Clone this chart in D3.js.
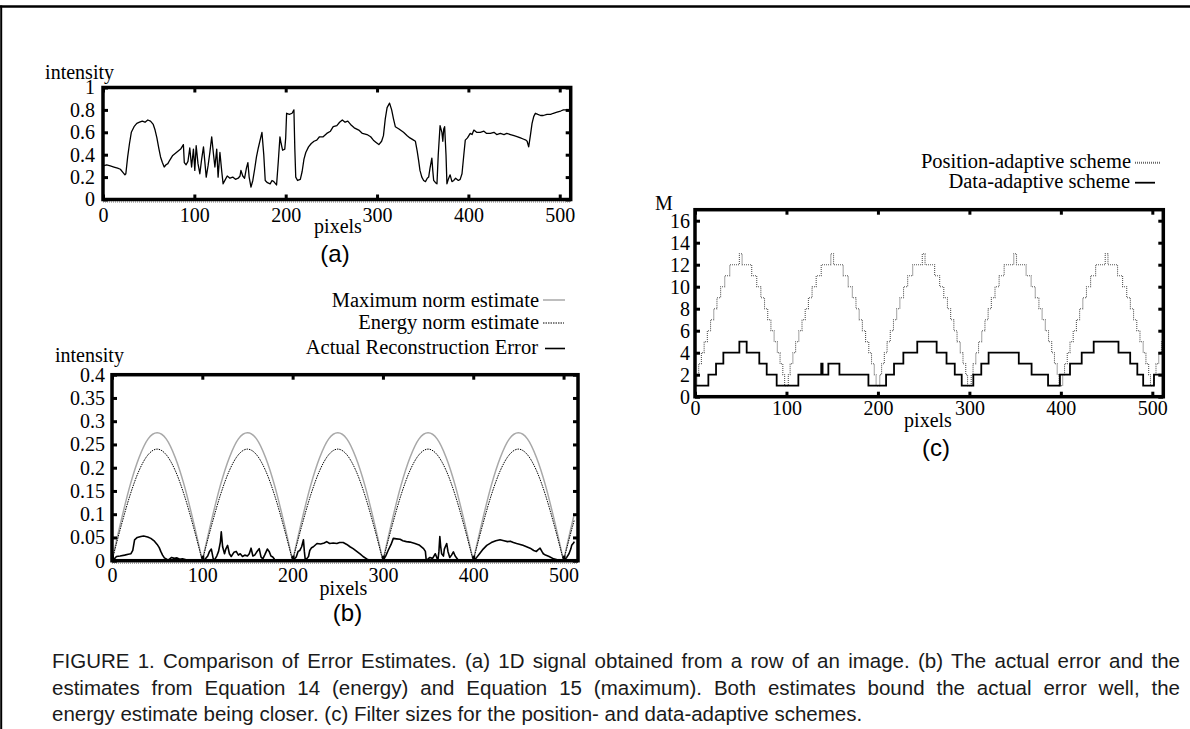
<!DOCTYPE html>
<html>
<head>
<meta charset="utf-8">
<script src="https://cdn.jsdelivr.net/npm/d3@7"></script>
<style>
  html, body { margin: 0; padding: 0; background: #fff; }
  svg { display: block; }
</style>
</head>
<body>
<svg id="chart" width="1190" height="729"></svg>
<script>
const SERIF = '"Liberation Serif", "Times New Roman", serif';
const SANS = '"Liberation Sans", Arial, sans-serif';

// (a) 1D signal, pixel position / intensity
const sigX = [0,4,8,12,16,19,22,24,25,27,29,31,34,37,40,43,46,49,52,55,57,59,61,63,65,67,69,71,73,76,79,82,85,88,89,91,93,95,97,99,100.5,102,104,106,108,110,113,115,117,119,121,122.5,124.5,126,128,130,131.5,134,136,139,142,145,148,150,151,153,155,157,158.6,160,162,164,166,168,170,172,174,176,177.6,180,183,185,187,189,190,192,193.7,195,196.6,199,200,201,204,207,209,210,211,213,216,218,220,222,225,228,231,234,237,241,245,249,252,256,259,262,265,268,271,275,280,284,289,293,296,299,302,305,307,309,311,313.7,316,318,320,324,329,333,336,340,342,344,345.5,347,349,351,353,355,356.5,358,360,361,362,364,365.6,367,369,371,372,373,374,375.5,376.5,378,380,382,384,386,389,391,393,395,396.6,399,402,404,406,409,413,417,420,424,428,431,435,439,442,446,450,454,457,460,463,464.3,466,468,469.7,471.5,473.3,476,479,482,486,490,493,497,501,504,508,512];
const sigY = [.30,.31,.30,.29,.28,.27,.24,.22,.23,.38,.50,.60,.65,.68,.69,.70,.69,.71,.70,.67,.62,.55,.46,.38,.33,.29,.31,.32,.35,.39,.41,.43,.45,.49,.33,.31,.34,.46,.29,.45,.26,.48,.32,.23,.36,.47,.20,.30,.42,.56,.40,.29,.45,.20,.42,.25,.14,.18,.21,.19,.20,.18,.19,.21,.26,.21,.19,.28,.33,.20,.11,.17,.27,.38,.46,.53,.60,.40,.17,.15,.14,.17,.16,.14,.13,.35,.56,.50,.44,.45,.55,.77,.76,.77,.80,.45,.20,.17,.18,.25,.36,.42,.47,.50,.52,.53,.56,.56,.59,.61,.65,.66,.69,.71,.69,.70,.67,.64,.62,.59,.58,.56,.53,.51,.49,.52,.57,.72,.82,.86,.80,.72,.65,.63,.60,.57,.55,.53,.52,.43,.35,.26,.20,.17,.16,.19,.20,.28,.37,.26,.17,.15,.14,.40,.66,.60,.52,.63,.65,.40,.14,.18,.22,.16,.17,.19,.17,.18,.23,.40,.53,.55,.59,.58,.62,.60,.60,.61,.59,.59,.60,.58,.59,.58,.59,.58,.57,.56,.55,.54,.53,.52,.47,.58,.68,.74,.77,.76,.75,.75,.76,.76,.77,.78,.79,.80,.80,.80];
const ticksA_x = [0,100,200,300,400,500];
const ticksA_y = [0,0.2,0.4,0.6,0.8,1];

// (b) error estimates, sampled every 10 pixels (last at 512)
const estX = d3.range(0, 520, 10).concat([512]);
const maxNorm = [0,.085,.162,.222,.262,.275,.262,.222,.162,.085,
                 0,.085,.162,.222,.262,.275,.262,.222,.162,.085,
                 0,.085,.162,.222,.262,.275,.262,.222,.162,.085,
                 0,.085,.162,.222,.262,.275,.262,.222,.162,.085,
                 0,.085,.162,.222,.262,.275,.262,.222,.162,.085,
                 0,.085,.101];
const energyNorm = [0,.074,.141,.194,.228,.240,.228,.194,.141,.074,
                    0,.074,.141,.194,.228,.240,.228,.194,.141,.074,
                    0,.074,.141,.194,.228,.240,.228,.194,.141,.074,
                    0,.074,.141,.194,.228,.240,.228,.194,.141,.074,
                    0,.074,.141,.194,.228,.240,.228,.194,.141,.074,
                    0,.074,.088];
const errX = [0,3,5,9,14,18,21,23,25,28,32,35,39.5,43,47,50,52.3,54,56,58,60,62,64,66,69,72,75,78,82,85,90,100,103,106,108,110,112,113,116,118,120,121,122.5,124.6,126,128,130,132,135,137.5,140,142,144.5,147,150,152,154,156,158,160,163,165,167,169,172,174,176,178,180,182,190,200,204,206,208,210,212,213,214,216,217.6,219,221,223,227,231,235,237.7,241,245,249,252,256,260,263.5,267,271,275,278,282,285,290,300,303,306,309,311.5,315,319,322,326,330,335.5,340,345,347,348,352,355,358,360,361,362,363,364,365,367,368,370.6,372,374,376,378,380,383.5,390,400,403,407,411,415,420,425,429.7,434,438,441,444.5,448,452,455,459,463,467,470,472,474,476,477.6,480,484,489,493,496,500,502,503.5,506,508,509,511,512];
const errY = [0,.005,.009,.010,.012,.014,.015,.022,.045,.050,.052,.053,.051,.048,.042,.035,.028,.020,.012,.006,.004,.001,.004,.007,.005,.006,.003,.004,.002,.001,0,0,.003,.010,.020,.025,.005,0,.010,.020,.040,.062,.030,.015,.025,.033,.015,.009,.018,.020,.012,.015,.009,.012,.010,.015,.027,.010,.012,.018,.026,.008,.004,.012,.025,.020,.010,.008,.003,0,0,0,.008,.020,.022,.030,.045,.020,.002,.005,.009,.022,.028,.030,.037,.036,.038,.041,.037,.038,.037,.039,.039,.035,.030,.026,.020,.014,.009,.004,.001,0,0,.010,.023,.035,.048,.047,.046,.043,.041,.040,.037,.034,.026,.020,0,.007,.005,.015,.005,.003,.020,.052,.030,.015,.010,.025,.037,.020,.007,.012,.019,.010,.001,0,0,.005,.015,.025,.033,.039,.043,.045,.043,.041,.042,.039,.037,.035,.033,.030,.027,.022,.020,.024,.027,.020,.015,.012,.009,.004,.002,0,0,.004,.007,.015,.025,.033,.038,.041];
const ticksB_x = [0,100,200,300,400,500];
const ticksB_y = [0,0.05,0.1,0.15,0.2,0.25,0.3,0.35,0.4];

// (c) filter size M, step start positions and levels
const posX = [0,2,4,7,10,13.5,17,20.5,24,28,32.5,38,48.5,51.5,62,67.5,72,76,79.5,83,86.5,90,93,96,98,
              102,104,107,110,113.5,117,120.5,124,128,132.5,138,148.5,151.5,162,167.5,172,176,179.5,183,186.5,190,193,196,198,
              202,204,207,210,213.5,217,220.5,224,228,232.5,238,248.5,251.5,262,267.5,272,276,279.5,283,286.5,290,293,296,298,
              302,304,307,310,313.5,317,320.5,324,328,332.5,338,348.5,351.5,362,367.5,372,376,379.5,383,386.5,390,393,396,398,
              402,404,407,410,413.5,417,420.5,424,428,432.5,438,448.5,451.5,462,467.5,472,476,479.5,483,486.5,490,493,496,498,
              502,504,507,510,512];
const posM = [1,2,3,4,5,6,7,8,9,10,11,12,13,12,11,10,9,8,7,6,5,4,3,2,1,
              2,3,4,5,6,7,8,9,10,11,12,13,12,11,10,9,8,7,6,5,4,3,2,1,
              2,3,4,5,6,7,8,9,10,11,12,13,12,11,10,9,8,7,6,5,4,3,2,1,
              2,3,4,5,6,7,8,9,10,11,12,13,12,11,10,9,8,7,6,5,4,3,2,1,
              2,3,4,5,6,7,8,9,10,11,12,13,12,11,10,9,8,7,6,5,4,3,2,1,
              2,3,4,5,5];
const dataX = [0,14.6,23,31,48.5,56.5,70.3,78.4,89.3,113,138,139.5,145.8,157.9,189.6,208.9,217.6,227.8,243,264.2,275,284,291.6,304.3,313,321,354,368,386,399,410,422.8,435.9,463,475.8,483.6,490,501.8,512];
const dataM = [1,2,3,4,5,4,3,2,1,2,3,2,3,2,1,2,3,4,5,4,3,2,1,2,3,4,3,2,1,2,3,4,5,4,3,2,1,2,2];
const ticksC_x = [0,100,200,300,400,500];
const ticksC_y = [0,2,4,6,8,10,12,14,16];

const legendB = ["Maximum norm estimate", "Energy norm estimate", "Actual Reconstruction Error"];
const legendC = ["Position-adaptive scheme", "Data-adaptive scheme"];
const caption = [
  "FIGURE 1. Comparison of Error Estimates. (a) 1D signal obtained from a row of an image. (b) The actual error and the",
  "estimates from Equation 14 (energy) and Equation 15 (maximum). Both estimates bound the actual error well, the",
  "energy estimate being closer. (c) Filter sizes for the position- and data-adaptive schemes."
];

const svg = d3.select("#chart");

// page rules
svg.append("line").attr("x1", 0).attr("x2", 1190).attr("y1", 6.5).attr("y2", 6.5)
  .attr("stroke", "#000").attr("stroke-width", 2.6);
svg.append("line").attr("x1", 1.2).attr("x2", 1.2).attr("y1", 5.5).attr("y2", 729)
  .attr("stroke", "#000").attr("stroke-width", 2);

const styles = {
  signal: { stroke: "#000", width: 1.3 },
  maxN: { stroke: "#a8a8a8", width: 1.5 },
  energy: { stroke: "#000", width: 1, dash: "1.5,1" },
  actual: { stroke: "#000", width: 1.6 },
  pos: { stroke: "#555", width: 1.1, dash: "1,1" },
  data: { stroke: "#000", width: 1.8 }
};

function applyStyle(sel, s) {
  sel.attr("fill", "none").attr("stroke", s.stroke).attr("stroke-width", s.width)
    .attr("stroke-dasharray", s.dash || null);
  return sel;
}

let clipId = 0;
function panel(x, y, xticks, yticks, opt) {
  const [x0, x1] = x.range();
  const [y0, y1] = y.range();
  const g = svg.append("g");
  const id = "clip" + (clipId++);
  g.append("clipPath").attr("id", id).append("rect")
    .attr("x", x0).attr("y", y1).attr("width", x1 - x0).attr("height", y0 - y1);
  const plot = g.append("g").attr("clip-path", `url(#${id})`);

  const axes = g.append("g");
  axes.append("g").attr("transform", `translate(0,${y0})`)
    .call(d3.axisBottom(x).tickValues(xticks).tickSize(-5).tickPadding(opt.xpad));
  axes.append("g").attr("transform", `translate(0,${y1})`)
    .call(d3.axisTop(x).tickValues(xticks).tickSize(-5).tickFormat(""));
  axes.append("g").attr("transform", `translate(${x0},0)`)
    .call(d3.axisLeft(y).tickValues(yticks).tickSize(-5).tickPadding(opt.ypad).tickFormat(d => d));
  axes.append("g").attr("transform", `translate(${x1},0)`)
    .call(d3.axisRight(y).tickValues(yticks).tickSize(-5).tickFormat(""));
  axes.selectAll(".domain").remove();
  axes.selectAll("g").attr("font-family", SERIF).attr("font-size", 20);
  axes.selectAll(".tick line").attr("stroke", "#000").attr("stroke-width", 3);
  axes.selectAll(".tick text").attr("fill", "#000");

  if (opt.zeroDots) {
    g.append("line").attr("x1", x0).attr("x2", x1).attr("y1", y0 + 2.5).attr("y2", y0 + 2.5)
      .attr("stroke", "#777").attr("stroke-width", 1).attr("stroke-dasharray", "1,1");
  }
  g.append("rect").attr("x", x0).attr("y", y1).attr("width", x1 - x0).attr("height", y0 - y1)
    .attr("fill", "none").attr("stroke", "#000").attr("stroke-width", 3.5);
  return plot;
}

function label(txt, x, y, anchor, font, size) {
  return svg.append("text").attr("x", x).attr("y", y).attr("text-anchor", anchor)
    .attr("font-family", font).attr("font-size", size).attr("fill", "#000").text(txt);
}

function legendRow(txt, xEnd, yBase, lx1, lx2, ly, s) {
  label(txt, xEnd, yBase, "end", SERIF, 20.5);
  applyStyle(svg.append("line").attr("x1", lx1).attr("x2", lx2).attr("y1", ly).attr("y2", ly), s);
}

// split a curve into arches between zero values
function arches(xs, ys) {
  const segs = [];
  let cur = [];
  xs.forEach((v, i) => {
    cur.push([v, ys[i]]);
    if (ys[i] === 0 && cur.length > 1) { segs.push(cur); cur = [[v, ys[i]]]; }
  });
  if (cur.length > 1) segs.push(cur);
  return segs;
}

// ---------- (a) ----------
const xA = d3.scaleLinear().domain([0, 512]).range([103, 570.7]);
const yA = d3.scaleLinear().domain([0, 1]).range([199.5, 87.5]);
const pA = panel(xA, yA, ticksA_x, ticksA_y, { xpad: 8, ypad: 8, zeroDots: true });
const lineA = d3.line().x(d => xA(d[0])).y(d => yA(d[1]));
applyStyle(pA.append("path"), styles.signal).attr("stroke-linejoin", "round")
  .attr("d", lineA(sigX.map((v, i) => [v, sigY[i]])));
label("intensity", 114, 78.5, "end", SERIF, 20);
label("pixels", 338, 233, "middle", SERIF, 20);
label("(a)", 335, 262, "middle", SANS, 24);

// ---------- (b) ----------
const xB = d3.scaleLinear().domain([0, 516]).range([112, 578]);
const yB = d3.scaleLinear().domain([0, 0.4]).range([560.7, 374.7]);
const pB = panel(xB, yB, ticksB_x, ticksB_y, { xpad: 7, ypad: 7, zeroDots: true });
const arcLine = d3.line().x(d => xB(d[0])).y(d => yB(d[1])).curve(d3.curveMonotoneX);
arches(estX, maxNorm).forEach(seg => applyStyle(pB.append("path"), styles.maxN).attr("d", arcLine(seg)));
arches(estX, energyNorm).forEach(seg => applyStyle(pB.append("path"), styles.energy).attr("d", arcLine(seg)));
const errLine = d3.line().x(d => xB(d[0])).y(d => yB(d[1]));
applyStyle(pB.append("path"), styles.actual).attr("stroke-linejoin", "round")
  .attr("d", errLine(errX.map((v, i) => [v, errY[i]])));
label("intensity", 55, 362, "start", SERIF, 20);
label("pixels", 343.5, 595, "middle", SERIF, 20);
label("(b)", 347.5, 621, "middle", SANS, 24);
legendRow(legendB[0], 539, 307, 543, 565, 300, styles.maxN);
legendRow(legendB[1], 539, 329, 543, 564, 323, styles.energy);
legendRow(legendB[2], 538, 354, 545, 565, 348.5, styles.actual);

// ---------- (c) ----------
const xC = d3.scaleLinear().domain([0, 512]).range([695, 1163.3]);
const yC = d3.scaleLinear().domain([0, 17]).range([396.7, 209.7]);
const pC = panel(xC, yC, ticksC_x, ticksC_y, { xpad: 4, ypad: 5, zeroDots: false });
const stepLine = d3.line().x(d => xC(d[0])).y(d => yC(d[1])).curve(d3.curveStepAfter);
applyStyle(pC.append("path"), styles.pos).attr("d", stepLine(posX.map((v, i) => [v, posM[i]])));
applyStyle(pC.append("path"), styles.data).attr("d", stepLine(dataX.map((v, i) => [v, dataM[i]])));
label("M", 655, 210, "start", SERIF, 20);
label("pixels", 928, 427, "middle", SERIF, 20);
label("(c)", 936, 456, "middle", SANS, 24);
legendRow(legendC[0], 1131, 168, 1135, 1160, 162.7, { stroke: "#666", width: 2, dash: "1,1" });
legendRow(legendC[1], 1130, 188, 1135, 1155, 182.7, styles.data);

// ---------- caption ----------
const capY = [668, 695, 721];
caption.forEach((t, i) => {
  const txt = svg.append("text").attr("x", 52).attr("y", capY[i])
    .attr("font-family", SANS).attr("font-size", 20.5).attr("fill", "#1a1a1a").text(t);
  if (i < 2) {
    const len = txt.node().getComputedTextLength();
    const gaps = t.split(" ").length - 1;
    txt.attr("word-spacing", (1180 - 52 - len) / gaps);
  }
});
</script>
</body>
</html>
